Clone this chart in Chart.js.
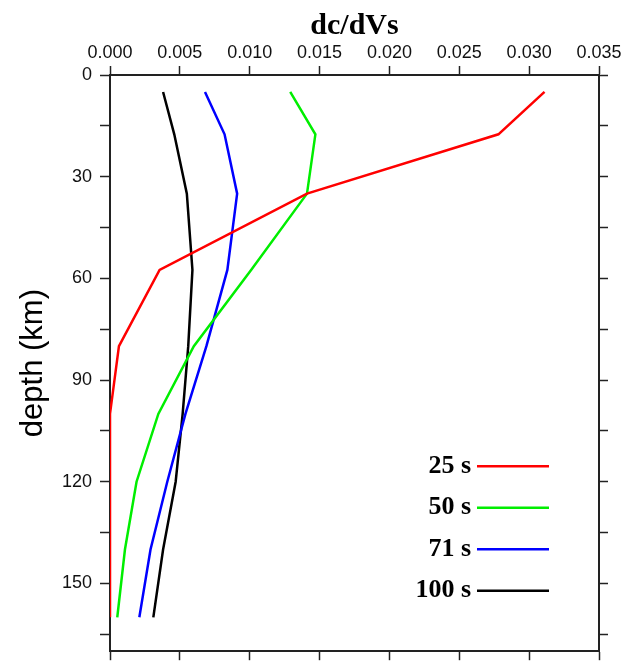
<!DOCTYPE html>
<html>
<head>
<meta charset="utf-8">
<script src="https://cdn.jsdelivr.net/npm/chart.js@4"></script>
<style>
  html, body { margin: 0; padding: 0; background: #fff; }
  #wrap { width: 637px; height: 670px; }
</style>
</head>
<body>
<div id="wrap"><canvas id="depthChart" width="637" height="670"></canvas></div>
<script>
// depth of each node (km) and dc/dVs for each period
const depths = [5, 17.5, 35, 57.5, 80, 100, 120, 140, 160];
const dc25 = [0.0311, 0.0278, 0.0141, 0.00355, 0.00064, 0.0, 0.0, 0.0, 0.0];
const dc50 = [0.0129, 0.0147, 0.0141, 0.0101, 0.0060, 0.00346, 0.0019, 0.00107, 0.00052];
const dc71 = [0.0068, 0.0082, 0.0091, 0.0084, 0.0069, 0.0054, 0.0041, 0.0029, 0.0021];
const dc100 = [0.0038, 0.0046, 0.0055, 0.0059, 0.0056, 0.0052, 0.0047, 0.0038, 0.0031];

const periodLabels = ['25 s', '50 s', '71 s', '100 s'];
const periodColors = ['#ff0000', '#00ee00', '#0000ff', '#000000'];
const seriesValues = [dc25, dc50, dc71, dc100];

const axisColor = '#222';
const tickFont = { family: '"Liberation Sans", Arial, sans-serif', size: 18 };

function toPoints(values) {
    return values.map((v, i) => ({ x: v, y: depths[i] }));
}

const datasets = seriesValues.map((vals, i) => ({
    label: periodLabels[i],
    data: toPoints(vals),
    borderColor: periodColors[i],
    backgroundColor: periodColors[i],
    borderWidth: 2.5,
    pointRadius: 0,
    showLine: true,
    tension: 0
}));

// legend drawn as "label ——" inside lower right of the plot
const sideLegend = {
    id: 'sideLegend',
    afterDatasetsDraw(chart) {
        const ctx = chart.ctx;
        const area = chart.chartArea;
        const lineEnd = area.right - 50;
        const lineStart = lineEnd - 72;
        const textRight = lineStart - 6;
        const firstRow = area.bottom - 185;
        const rowGap = 41.5;
        ctx.save();
        ctx.font = 'bold 26px "Liberation Serif", "Times New Roman", serif';
        ctx.textAlign = 'right';
        ctx.textBaseline = 'middle';
        chart.data.datasets.forEach((ds, i) => {
            const y = firstRow + i * rowGap;
            ctx.fillStyle = '#000';
            ctx.fillText(ds.label, textRight, y);
            ctx.strokeStyle = ds.borderColor;
            ctx.lineWidth = 2.5;
            ctx.beginPath();
            ctx.moveTo(lineStart, y);
            ctx.lineTo(lineEnd, y);
            ctx.stroke();
        });
        ctx.restore();
    }
};

const edgeGrid = {
    display: true,
    drawOnChartArea: false,
    drawTicks: true,
    tickLength: 9,
    tickWidth: 1.5,
    color: axisColor
};
const edgeBorder = { display: true, color: axisColor, width: 2 };

new Chart(document.getElementById('depthChart'), {
    type: 'scatter',
    data: { datasets: datasets },
    options: {
        responsive: false,
        animation: false,
        layout: { padding: 0 },
        plugins: {
            legend: { display: false },
            tooltip: { enabled: false }
        },
        scales: {
            x: {
                type: 'linear',
                position: 'top',
                min: 0,
                max: 0.035,
                grid: edgeGrid,
                border: edgeBorder,
                ticks: {
                    stepSize: 0.005,
                    padding: 2,
                    color: '#111',
                    font: tickFont,
                    maxRotation: 0,
                    callback: v => v.toFixed(3)
                },
                title: {
                    display: true,
                    text: 'dc/dVs',
                    color: '#000',
                    font: { family: '"Liberation Serif", "Times New Roman", serif', size: 30, weight: 'bold', lineHeight: 1.2 },
                    padding: { top: 8, bottom: 0 }
                },
                afterFit: s => { s.height = 75; }
            },
            xBottom: {
                type: 'linear',
                position: 'bottom',
                min: 0,
                max: 0.035,
                grid: edgeGrid,
                border: edgeBorder,
                ticks: { stepSize: 0.005, display: true, callback: () => '' },
                afterFit: s => { s.height = 9; }
            },
            y: {
                type: 'linear',
                position: 'left',
                reverse: true,
                min: 0,
                max: 170,
                grid: Object.assign({}, edgeGrid, { tickLength: 10 }),
                border: edgeBorder,
                ticks: {
                    stepSize: 15,
                    includeBounds: false,
                    padding: 8,
                    color: '#111',
                    font: tickFont,
                    callback: v => (v % 30 === 0 ? String(v) : '')
                },
                title: {
                    display: true,
                    text: 'depth (km)',
                    color: '#000',
                    font: { family: '"Liberation Sans", Arial, sans-serif', size: 31, lineHeight: 1.2 },
                    padding: { top: 15, bottom: 0 }
                },
                afterFit: s => { s.width = 110; }
            },
            yRight: {
                type: 'linear',
                position: 'right',
                reverse: true,
                min: 0,
                max: 170,
                grid: edgeGrid,
                border: edgeBorder,
                ticks: { stepSize: 15, includeBounds: false, callback: () => '' },
                afterFit: s => { s.width = 38; }
            }
        }
    },
    plugins: [sideLegend]
});
</script>
</body>
</html>
